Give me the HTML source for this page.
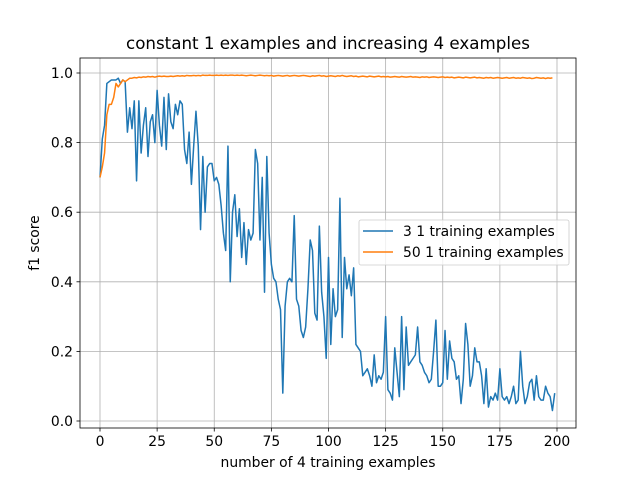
<!DOCTYPE html>
<html><head><meta charset="utf-8"><style>
body{margin:0;background:#fff;}
svg text{font-family:"DejaVu Sans","Liberation Sans",sans-serif;fill:#000;}
</style></head><body>
<svg id="chart" width="640" height="480" xmlns="http://www.w3.org/2000/svg"></svg>
<script>
const xTicks=[0,25,50,75,100,125,150,175,200];
const yTicks=[0.0,0.2,0.4,0.6,0.8,1.0];
const yTickLabels=["0.0","0.2","0.4","0.6","0.8","1.0"];
const seriesNames=["3 1 training examples","50 1 training examples"];
const blue=[0.70,0.81,0.85,0.97,0.975,0.98,0.98,0.98,0.985,0.97,0.98,0.975,0.83,0.90,0.84,0.92,0.69,0.92,0.77,0.85,0.90,0.76,0.86,0.88,0.80,0.95,0.85,0.79,0.93,0.78,0.94,0.86,0.84,0.91,0.88,0.92,0.91,0.78,0.74,0.83,0.68,0.79,0.89,0.79,0.55,0.76,0.60,0.73,0.74,0.74,0.69,0.70,0.68,0.62,0.54,0.49,0.79,0.40,0.60,0.65,0.53,0.61,0.47,0.57,0.45,0.55,0.52,0.54,0.78,0.74,0.52,0.70,0.37,0.76,0.54,0.45,0.41,0.40,0.35,0.32,0.08,0.33,0.40,0.41,0.40,0.59,0.35,0.33,0.26,0.24,0.27,0.38,0.52,0.49,0.31,0.29,0.56,0.37,0.30,0.18,0.47,0.22,0.38,0.30,0.32,0.64,0.24,0.47,0.38,0.42,0.36,0.44,0.22,0.21,0.20,0.13,0.14,0.15,0.13,0.10,0.19,0.11,0.13,0.12,0.14,0.30,0.09,0.08,0.06,0.21,0.14,0.07,0.30,0.09,0.27,0.16,0.17,0.18,0.19,0.27,0.17,0.16,0.14,0.13,0.11,0.12,0.20,0.29,0.10,0.10,0.11,0.26,0.12,0.23,0.18,0.17,0.12,0.13,0.05,0.12,0.28,0.22,0.10,0.13,0.21,0.17,0.17,0.13,0.05,0.15,0.04,0.07,0.06,0.08,0.06,0.15,0.07,0.06,0.07,0.05,0.07,0.10,0.05,0.06,0.20,0.10,0.05,0.07,0.11,0.12,0.06,0.13,0.07,0.06,0.06,0.10,0.08,0.07,0.03,0.08];
const orange=[0.70,0.73,0.77,0.88,0.91,0.91,0.93,0.97,0.96,0.97,0.98,0.975,0.98,0.985,0.985,0.987,0.986,0.988,0.987,0.989,0.988,0.99,0.989,0.99,0.988,0.99,0.991,0.99,0.991,0.99,0.99,0.991,0.99,0.991,0.992,0.991,0.992,0.991,0.993,0.992,0.992,0.993,0.992,0.993,0.992,0.994,0.993,0.993,0.994,0.993,0.993,0.994,0.993,0.994,0.993,0.994,0.993,0.994,0.994,0.993,0.994,0.993,0.994,0.993,0.992,0.993,0.994,0.993,0.992,0.993,0.994,0.993,0.992,0.993,0.992,0.993,0.991,0.992,0.993,0.992,0.991,0.992,0.993,0.991,0.992,0.993,0.992,0.991,0.992,0.993,0.992,0.991,0.990,0.992,0.991,0.992,0.993,0.991,0.992,0.990,0.991,0.992,0.991,0.990,0.992,0.991,0.993,0.991,0.990,0.991,0.992,0.990,0.991,0.989,0.990,0.991,0.990,0.989,0.991,0.990,0.989,0.990,0.991,0.989,0.990,0.989,0.990,0.988,0.989,0.990,0.989,0.988,0.990,0.989,0.988,0.989,0.990,0.988,0.989,0.988,0.987,0.989,0.988,0.989,0.987,0.988,0.989,0.988,0.987,0.988,0.989,0.987,0.988,0.987,0.988,0.986,0.987,0.988,0.987,0.986,0.988,0.987,0.986,0.987,0.988,0.986,0.987,0.986,0.985,0.987,0.986,0.987,0.985,0.986,0.987,0.986,0.985,0.986,0.987,0.985,0.986,0.987,0.985,0.986,0.985,0.987,0.986,0.985,0.986,0.984,0.985,0.987,0.986,0.985,0.986,0.984,0.986,0.985,0.986];
const NS="http://www.w3.org/2000/svg";
const svg=document.getElementById('chart');
const L=80,R=576,T=58,B=428;
function xs(v){return 100+v*(557-100)/200;}
function ys(v){return 421-v*348;}
function mk(tag,attrs,parent){const e=document.createElementNS(NS,tag);for(const k in attrs)e.setAttribute(k,attrs[k]);(parent||svg).appendChild(e);return e;}
xTicks.forEach(t=>{
  const g=mk('line',{x1:xs(t),x2:xs(t),y1:T,y2:B,stroke:'#b0b0b0','stroke-width':0.8});
  
  
  const tk=mk('line',{x1:xs(t),x2:xs(t),y1:B,y2:B+3.5,stroke:'#000','stroke-width':0.8});
  
  
  const tx=mk('text',{x:xs(t),y:B+18,'text-anchor':'middle','font-size':13.9});
  tx.textContent=t;
  
  
});
yTicks.forEach((t,i)=>{
  const g=mk('line',{x1:L,x2:R,y1:ys(t),y2:ys(t),stroke:'#b0b0b0','stroke-width':0.8});
  
  
  const tk=mk('line',{x1:L-3.5,x2:L,y1:ys(t),y2:ys(t),stroke:'#000','stroke-width':0.8});
  
  
  const tx=mk('text',{x:L-7,y:ys(t)+5,'text-anchor':'end','font-size':13.9});
  tx.textContent=yTickLabels[i];
  
  
});
function line(arr,color,name){
  const p=mk('polyline',{points:arr.map((v,i)=>xs(i)+','+ys(v)).join(' '),fill:'none',stroke:color,'stroke-width':1.5,'stroke-linejoin':'round'});
  
  
}
line(blue,'#1f77b4','series-3-examples');
line(orange,'#ff7f0e','series-50-examples');
const fr=mk('rect',{x:L,y:T,width:R-L,height:B-T,fill:'none',stroke:'#000','stroke-width':0.8});


const title=mk('text',{x:328,y:49,'text-anchor':'middle','font-size':16.7});
title.textContent='constant 1 examples and increasing 4 examples';


const xl=mk('text',{x:328,y:467,'text-anchor':'middle','font-size':13.9});
xl.textContent='number of 4 training examples';


const yl=mk('text',{x:0,y:0,'text-anchor':'middle','font-size':13.9,transform:'translate(39,243) rotate(-90)'});
yl.textContent='f1 score';


const lg=mk('rect',{x:359,y:220,width:210,height:45,rx:2,fill:'#fff','fill-opacity':0.8,stroke:'#ccc','stroke-width':0.8});


['#1f77b4','#ff7f0e'].forEach((c,i)=>{
  const y=231+i*21;
  const l=mk('line',{x1:363,x2:393,y1:y,y2:y,stroke:c,'stroke-width':1.5});
  
  
  const t=mk('text',{x:403,y:y+5,'font-size':13.9});
  t.textContent=seriesNames[i];
  
  
});
</script>
</body></html>
